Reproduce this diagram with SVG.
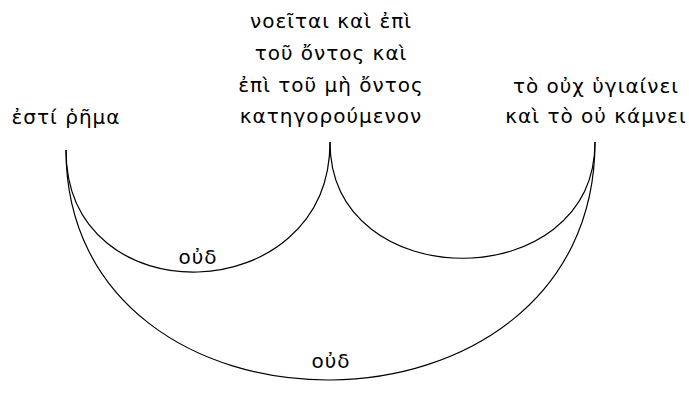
<svg xmlns="http://www.w3.org/2000/svg" width="689" height="405" viewBox="0 0 689 405">
<style>
text{font-family:"DejaVu Sans","Noto Sans",sans-serif;font-size:20px;letter-spacing:1px;fill:#000;text-anchor:middle}
.arc{fill:none;stroke:#000;stroke-width:1.2}
</style>
<rect width="689" height="405" fill="#fff"/>
<g id="node-left"><text x="66" y="124">ἐστί ῥῆμα</text></g>
<g id="node-middle">
<text x="331" y="28">νοεῖται καὶ ἐπὶ</text>
<text x="331" y="60">τοῦ ὄντος καὶ</text>
<text x="331" y="92">ἐπὶ τοῦ μὴ ὄντος</text>
<text x="331" y="123">κατηγορούμενον</text>
</g>
<g id="node-right">
<text x="596" y="93">τὸ οὐχ ὑγιαίνει</text>
<text x="596" y="123">καὶ τὸ οὐ κάμνει</text>
</g>
<g id="connectors">
<path class="arc" d="M66,150 C66,318 330,310 330,142"/>
<path class="arc" d="M330,142 C330,297 595,297 595,142"/>
<path class="arc" d="M66,150 C66,458 595,458 595,142"/>
<text x="198" y="264">οὐδ</text>
<text x="331" y="368">οὐδ</text>
</g>
</svg>
